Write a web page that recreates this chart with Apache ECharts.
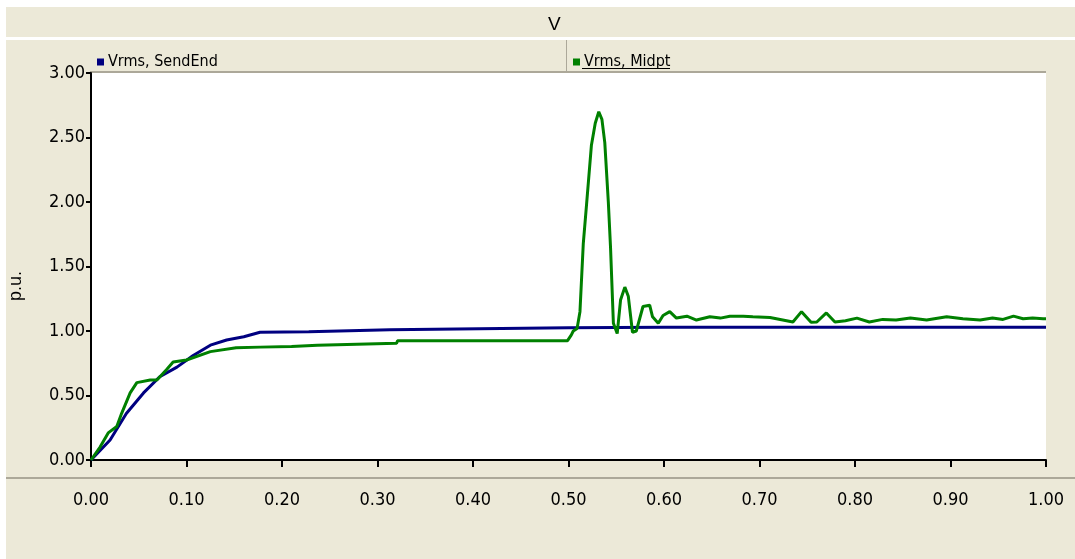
<!DOCTYPE html>
<html>
<head>
<meta charset="utf-8">
<script src="https://cdn.jsdelivr.net/npm/echarts@6/dist/echarts.min.js"></script>
<style>
	html, body { margin: 0; padding: 0; background: #fff; }
	#chart { width: 1075px; height: 559px; }
</style>
</head>
<body>
<div id="chart"></div>
<script>
	/* 时间轴 / 数据 */
	const xTicks = ['0.00', '0.10', '0.20', '0.30', '0.40', '0.50', '0.60', '0.70', '0.80', '0.90', '1.00'];
	const yTicks = ['0.00', '0.50', '1.00', '1.50', '2.00', '2.50', '3.00'];
	const seriesNames = ['Vrms, SendEnd', 'Vrms, Midpt'];

	const timeSend = [0, 0.02, 0.037, 0.055, 0.072, 0.09, 0.107, 0.125, 0.142, 0.16, 0.177, 0.228, 0.229, 0.313, 0.314, 0.5, 0.6, 0.7, 0.8, 0.9, 1.0];
	const vrmsSend = [0, 0.155, 0.36, 0.52, 0.645, 0.72, 0.81, 0.89, 0.93, 0.955, 0.99, 0.995, 1.01, 1.01, 1.025, 1.025, 1.03, 1.03, 1.03, 1.03, 1.03];

	const timeMid = [0, 0.0095, 0.018, 0.027, 0.032, 0.041, 0.048, 0.062, 0.069, 0.079, 0.086, 0.1, 0.125, 0.152, 0.177, 0.21, 0.211, 0.237, 0.238, 0.32,
		0.321, 0.499, 0.503, 0.505, 0.509, 0.512, 0.5155, 0.519, 0.524, 0.528, 0.5317, 0.535, 0.538, 0.5417, 0.544, 0.547, 0.551, 0.5545, 0.559, 0.5626,
		0.567, 0.571, 0.578, 0.585, 0.588, 0.594, 0.599, 0.606, 0.613, 0.624, 0.634, 0.648, 0.659, 0.669, 0.683, 0.693, 0.711, 0.735, 0.744, 0.754,
		0.76, 0.77, 0.779, 0.79, 0.802, 0.815, 0.829, 0.843, 0.858, 0.875, 0.896, 0.913, 0.931, 0.944, 0.955, 0.966, 0.976, 0.986, 0.997, 1.0];
	const vrmsMid = [0, 0.10, 0.21, 0.26, 0.36, 0.52, 0.60, 0.62, 0.62, 0.70, 0.76, 0.775, 0.84, 0.87, 0.875, 0.88, 0.89, 0.89, 0.905, 0.905,
		0.925, 0.925, 0.97, 1.0, 1.02, 1.15, 1.68, 1.99, 2.44, 2.61, 2.70, 2.64, 2.46, 2.0, 1.65, 1.06, 0.98, 1.24, 1.34, 1.27,
		0.99, 1.0, 1.19, 1.2, 1.11, 1.06, 1.12, 1.15, 1.10, 1.115, 1.085, 1.11, 1.10, 1.115, 1.115, 1.11, 1.105, 1.07, 1.15, 1.067,
		1.07, 1.14, 1.07, 1.08, 1.10, 1.07, 1.09, 1.085, 1.10, 1.085, 1.11, 1.095, 1.085, 1.10, 1.09, 1.115, 1.095, 1.10, 1.095, 1.095];

	const narrow = "'Liberation Sans Narrow', 'DejaVu Sans Condensed', 'Liberation Sans', sans-serif";
	const beige = '#ECE9D8';
	const gray = '#ACA899';

	const zip = (xs, ys) => xs.map((x, i) => [x, ys[i]]);

	const chart = echarts.init(document.getElementById('chart'));
	chart.setOption({
		backgroundColor: beige,
		animation: false,
		title: {
			text: 'V',
			left: 543,
			top: 10,
			textStyle: { fontSize: 19, fontWeight: 'normal', color: '#000', fontFamily: 'Liberation Sans' }
		},
		legend: [
			{
				data: [seriesNames[0]],
				left: 92,
				top: 49,
				icon: 'rect',
				itemWidth: 7,
				itemHeight: 7,
				itemGap: 4,
				textStyle: { fontSize: 16, color: '#000', fontFamily: narrow, padding: [0, 0, 0, -1] }
			},
			{
				data: [seriesNames[1]],
				left: 568,
				top: 49,
				icon: 'rect',
				itemWidth: 7,
				itemHeight: 7,
				itemGap: 4,
				textStyle: { fontSize: 16, color: '#000', fontFamily: narrow, padding: [0, 0, 0, -1] }
			}
		],
		graphic: [
			{ type: 'rect', shape: { x: 0, y: 0, width: 1075, height: 7 }, style: { fill: '#fff' }, silent: true },
			{ type: 'rect', shape: { x: 0, y: 0, width: 6, height: 559 }, style: { fill: '#fff' }, silent: true },
			{ type: 'rect', shape: { x: 0, y: 37, width: 1075, height: 3 }, style: { fill: '#fff' }, silent: true },
			{ type: 'rect', shape: { x: 90, y: 71, width: 956, height: 2 }, style: { fill: gray }, silent: true },
			{ type: 'rect', shape: { x: 6, y: 477, width: 1069, height: 2 }, style: { fill: gray }, silent: true },
			{ type: 'rect', shape: { x: 566, y: 40, width: 1, height: 31 }, style: { fill: gray }, silent: true },
			{ type: 'rect', shape: { x: 582, y: 68, width: 88, height: 1 }, style: { fill: '#000' }, silent: true },
			{
				type: 'text',
				x: 16,
				y: 286,
				rotation: Math.PI / 2,
				silent: true,
				style: { text: 'p.u.', fill: '#000', font: "18px 'Liberation Sans'", align: 'center', verticalAlign: 'middle' }
			}
		],
		grid: {
			left: 91,
			top: 73,
			width: 955,
			height: 387,
			show: true,
			backgroundColor: '#fff',
			borderWidth: 0
		},
		xAxis: {
			type: 'value',
			min: 0,
			max: 1,
			interval: 0.1,
			offset: 22,
			axisLine: { lineStyle: { color: '#000', width: 2 } },
			axisTick: { length: 7, lineStyle: { color: '#000', width: 2 } },
			axisLabel: {
				margin: 9,
				fontSize: 18,
				color: '#000',
				fontFamily: narrow,
				formatter: v => xTicks[Math.round(v * 10)]
			},
			splitLine: { show: false }
		},
		yAxis: {
			type: 'value',
			min: 0,
			max: 3,
			interval: 0.5,
			axisLine: { lineStyle: { color: '#000', width: 2 } },
			axisTick: { length: 5, lineStyle: { color: '#000', width: 2 } },
			axisLabel: {
				margin: 6,
				fontSize: 18,
				color: '#000',
				fontFamily: narrow,
				formatter: v => yTicks[Math.round(v * 2)]
			},
			splitLine: { show: false }
		},
		series: [
			{
				name: seriesNames[0],
				type: 'line',
				showSymbol: false,
				color: '#000080',
				lineStyle: { width: 3, color: '#000080' },
				data: zip(timeSend, vrmsSend)
			},
			{
				name: seriesNames[1],
				type: 'line',
				showSymbol: false,
				color: '#008000',
				lineStyle: { width: 3, color: '#008000' },
				data: zip(timeMid, vrmsMid)
			}
		]
	});
</script>
</body>
</html>
